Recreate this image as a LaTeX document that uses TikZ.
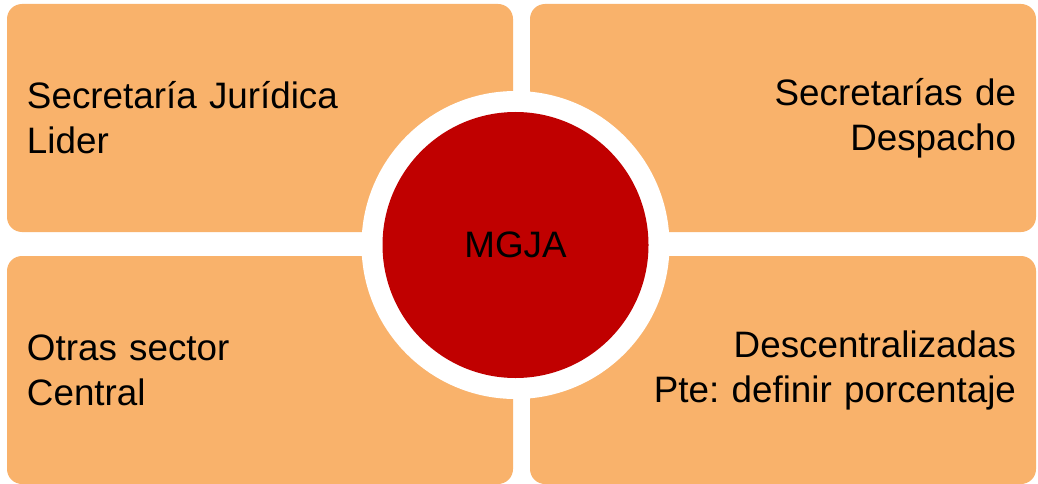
\documentclass[tikz,border=0pt]{standalone}
\usepackage{fontspec}
\setmainfont{Liberation Sans}
\frenchspacing
\definecolor{boxorange}{HTML}{F9B26B}
\definecolor{hubred}{HTML}{C00000}
\begin{document}
\begin{tikzpicture}[x=1pt,y=-1pt,
  quad/.style={rectangle, rounded corners=15pt, fill=boxorange, draw=none,
    minimum width=506pt, minimum height=228pt, text width=466pt, inner xsep=20pt, inner ysep=0pt,
    font=\fontsize{36.8}{45}\selectfont\frenchspacing, text=black},
  ring/.style={circle, fill=white, draw=none, minimum size=308pt, inner sep=0pt},
  hub/.style={circle, fill=hubred, draw=none, minimum size=266pt, inner sep=0pt,
    font=\fontsize{36.8}{45}\selectfont, text=black}]
\useasboundingbox (0,0) rectangle (1038,484);
\fill[white] (0,0) rectangle (1038,484);
\node[quad, align=left]  (tl) at (260,118) {Secretaría Jurídica\\Lider};
\node[quad, align=right] (tr) at (783,118) {Secretarías de\\Despacho};
\node[quad, align=left]  (bl) at (260,370) {Otras sector\\Central};
\node[quad, align=right] (br) at (783,370) {Descentralizadas\\Pte: definir porcentaje};
\node[ring] (ringnode) at (515.5,245) {};
\node[hub] (mgja) at (515.5,245) {MGJA};
\end{tikzpicture}
\end{document}
